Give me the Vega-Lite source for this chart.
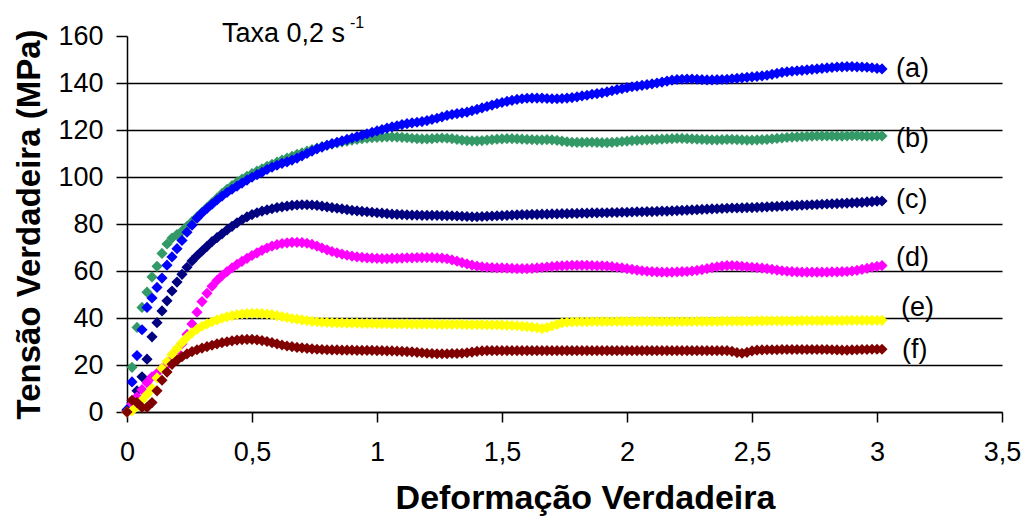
{
"$schema": "https://vega.github.io/schema/vega-lite/v6.json",
"width": 875, "height": 376,
"autosize": "none",
"padding": {"left": 127, "top": 36, "right": 23, "bottom": 107},
"background": "white",
"config": {"font": "Liberation Sans", "view": {"stroke": null}},
"encoding": {
"x": {"field": "x", "type": "quantitative", "scale": {"domain": [0, 3.5], "nice": false, "zero": false},
  "axis": {"values": [0, 0.5, 1, 1.5, 2, 2.5, 3, 3.5], "labelExpr": "replace(toString(datum.value), '.', ',')", "grid": false,
    "domainColor": "#000", "domainWidth": 1.5, "tickColor": "#000", "tickWidth": 1.5, "tickSize": 10,
    "labelFontSize": 27, "labelColor": "#000", "labelPadding": 17, "labelFlush": false,
    "title": "Deformação Verdadeira", "titleFontSize": 34, "titleFontWeight": "bold", "titleColor": "#000", "titlePadding": 16, "titleX": 458}},
"y": {"field": "y", "type": "quantitative", "scale": {"domain": [0, 160], "nice": false},
  "axis": {"values": [0, 20, 40, 60, 80, 100, 120, 140, 160], "grid": true, "gridColor": "#000", "gridWidth": 1.5,
    "gridOpacity": {"condition": {"test": "datum.value === 160", "value": 0}, "value": 1},
    "domainColor": "#000", "domainWidth": 1.5, "tickColor": "#000", "tickWidth": 1.5, "tickSize": 11,
    "labelFontSize": 27, "labelColor": "#000", "labelPadding": 13, "labelFlush": false,
    "title": "Tensão Verdadeira (MPa)", "titleFontSize": 33, "titleFontWeight": "bold", "titleColor": "#000", "titlePadding": 11}}
},
"layer": [
{
"data": {"values": [
{"s":"b","x":0,"y":0},{"s":"b","x":0.02,"y":19},{"s":"b","x":0.04,"y":36},{"s":"b","x":0.06,"y":44.5},{"s":"b","x":0.08,"y":51},{"s":"b","x":0.1,"y":57.5},{"s":"b","x":0.12,"y":62},{"s":"b","x":0.14,"y":67.5},{"s":"b","x":0.16,"y":71.5},{"s":"b","x":0.18,"y":74},
{"s":"b","x":0.2,"y":75.5},{"s":"b","x":0.22,"y":77},{"s":"b","x":0.24,"y":79},{"s":"b","x":0.26,"y":81},{"s":"b","x":0.28,"y":83},{"s":"b","x":0.3,"y":85},{"s":"b","x":0.32,"y":87},{"s":"b","x":0.34,"y":89},{"s":"b","x":0.36,"y":91},{"s":"b","x":0.38,"y":93},
{"s":"b","x":0.4,"y":94.8},{"s":"b","x":0.42,"y":96.3},{"s":"b","x":0.44,"y":97.8},{"s":"b","x":0.46,"y":99.1},{"s":"b","x":0.48,"y":100.3},{"s":"b","x":0.5,"y":101.4},{"s":"b","x":0.52,"y":102.5},{"s":"b","x":0.54,"y":103.5},{"s":"b","x":0.56,"y":104.5},{"s":"b","x":0.58,"y":105.4},
{"s":"b","x":0.6,"y":106.3},{"s":"b","x":0.62,"y":107.2},{"s":"b","x":0.64,"y":108},{"s":"b","x":0.66,"y":108.8},{"s":"b","x":0.68,"y":109.6},{"s":"b","x":0.7,"y":110.3},{"s":"b","x":0.72,"y":111},{"s":"b","x":0.74,"y":111.7},{"s":"b","x":0.76,"y":112.3},{"s":"b","x":0.78,"y":112.9},
{"s":"b","x":0.8,"y":113.5},{"s":"b","x":0.82,"y":114},{"s":"b","x":0.84,"y":114.5},{"s":"b","x":0.86,"y":114.9},{"s":"b","x":0.88,"y":115.3},{"s":"b","x":0.9,"y":115.7},{"s":"b","x":0.92,"y":116},{"s":"b","x":0.94,"y":116.3},{"s":"b","x":0.96,"y":116.5},{"s":"b","x":0.98,"y":116.7},
{"s":"b","x":1,"y":116.9},{"s":"b","x":1.02,"y":117},{"s":"b","x":1.04,"y":117.1},{"s":"b","x":1.06,"y":117.1},{"s":"b","x":1.08,"y":117},{"s":"b","x":1.1,"y":116.9},{"s":"b","x":1.12,"y":116.7},{"s":"b","x":1.14,"y":116.5},{"s":"b","x":1.16,"y":116.3},{"s":"b","x":1.18,"y":116.2},
{"s":"b","x":1.2,"y":116.2},{"s":"b","x":1.22,"y":116.3},{"s":"b","x":1.24,"y":116.5},{"s":"b","x":1.26,"y":116.6},{"s":"b","x":1.28,"y":116.5},{"s":"b","x":1.3,"y":116.3},{"s":"b","x":1.32,"y":116},{"s":"b","x":1.34,"y":115.7},{"s":"b","x":1.36,"y":115.5},{"s":"b","x":1.38,"y":115.4},
{"s":"b","x":1.4,"y":115.4},{"s":"b","x":1.42,"y":115.5},{"s":"b","x":1.44,"y":115.7},{"s":"b","x":1.46,"y":115.9},{"s":"b","x":1.48,"y":116.1},{"s":"b","x":1.5,"y":116.2},{"s":"b","x":1.52,"y":116.3},{"s":"b","x":1.54,"y":116.3},{"s":"b","x":1.56,"y":116.2},{"s":"b","x":1.58,"y":116.1},
{"s":"b","x":1.6,"y":116},{"s":"b","x":1.62,"y":115.9},{"s":"b","x":1.64,"y":115.8},{"s":"b","x":1.66,"y":115.8},{"s":"b","x":1.68,"y":115.9},{"s":"b","x":1.7,"y":115.8},{"s":"b","x":1.72,"y":115.6},{"s":"b","x":1.74,"y":115.3},{"s":"b","x":1.76,"y":115},{"s":"b","x":1.78,"y":114.8},
{"s":"b","x":1.8,"y":114.7},{"s":"b","x":1.82,"y":114.7},{"s":"b","x":1.84,"y":114.8},{"s":"b","x":1.86,"y":114.8},{"s":"b","x":1.88,"y":114.7},{"s":"b","x":1.9,"y":114.6},{"s":"b","x":1.92,"y":114.6},{"s":"b","x":1.94,"y":114.7},{"s":"b","x":1.96,"y":114.9},{"s":"b","x":1.98,"y":115.1},
{"s":"b","x":2,"y":115.3},{"s":"b","x":2.02,"y":115.5},{"s":"b","x":2.04,"y":115.6},{"s":"b","x":2.06,"y":115.7},{"s":"b","x":2.08,"y":115.8},{"s":"b","x":2.1,"y":115.9},{"s":"b","x":2.12,"y":116},{"s":"b","x":2.14,"y":116.1},{"s":"b","x":2.16,"y":116.2},{"s":"b","x":2.18,"y":116.3},
{"s":"b","x":2.2,"y":116.4},{"s":"b","x":2.22,"y":116.4},{"s":"b","x":2.24,"y":116.3},{"s":"b","x":2.26,"y":116.2},{"s":"b","x":2.28,"y":116.1},{"s":"b","x":2.3,"y":116},{"s":"b","x":2.32,"y":115.9},{"s":"b","x":2.34,"y":115.8},{"s":"b","x":2.36,"y":115.8},{"s":"b","x":2.38,"y":115.9},
{"s":"b","x":2.4,"y":116},{"s":"b","x":2.42,"y":116},{"s":"b","x":2.44,"y":115.9},{"s":"b","x":2.46,"y":115.8},{"s":"b","x":2.48,"y":115.7},{"s":"b","x":2.5,"y":115.7},{"s":"b","x":2.52,"y":115.8},{"s":"b","x":2.54,"y":115.9},{"s":"b","x":2.56,"y":116},{"s":"b","x":2.58,"y":116.2},
{"s":"b","x":2.6,"y":116.4},{"s":"b","x":2.62,"y":116.6},{"s":"b","x":2.64,"y":116.8},{"s":"b","x":2.66,"y":117},{"s":"b","x":2.68,"y":117.1},{"s":"b","x":2.7,"y":117.2},{"s":"b","x":2.72,"y":117.3},{"s":"b","x":2.74,"y":117.4},{"s":"b","x":2.76,"y":117.5},{"s":"b","x":2.78,"y":117.5},
{"s":"b","x":2.8,"y":117.5},{"s":"b","x":2.82,"y":117.5},{"s":"b","x":2.84,"y":117.4},{"s":"b","x":2.86,"y":117.4},{"s":"b","x":2.88,"y":117.5},{"s":"b","x":2.9,"y":117.6},{"s":"b","x":2.92,"y":117.6},{"s":"b","x":2.94,"y":117.5},{"s":"b","x":2.96,"y":117.4},{"s":"b","x":2.98,"y":117.4},
{"s":"b","x":3,"y":117.5},{"s":"b","x":3.02,"y":117.5},

{"s":"a","x":0,"y":1},{"s":"a","x":0.02,"y":12.8},{"s":"a","x":0.04,"y":24},{"s":"a","x":0.06,"y":35},{"s":"a","x":0.08,"y":44.5},{"s":"a","x":0.1,"y":48.5},{"s":"a","x":0.12,"y":53},{"s":"a","x":0.14,"y":57},{"s":"a","x":0.16,"y":62.5},{"s":"a","x":0.18,"y":66},
{"s":"a","x":0.2,"y":69.5},{"s":"a","x":0.22,"y":73},{"s":"a","x":0.24,"y":76.5},{"s":"a","x":0.26,"y":79.5},{"s":"a","x":0.28,"y":82.5},{"s":"a","x":0.3,"y":84.7},{"s":"a","x":0.32,"y":86.6},{"s":"a","x":0.34,"y":88.4},{"s":"a","x":0.36,"y":90.2},{"s":"a","x":0.38,"y":91.9},
{"s":"a","x":0.4,"y":93.4},{"s":"a","x":0.42,"y":94.8},{"s":"a","x":0.44,"y":96.1},{"s":"a","x":0.46,"y":97.4},{"s":"a","x":0.48,"y":98.7},{"s":"a","x":0.5,"y":99.9},{"s":"a","x":0.52,"y":101},{"s":"a","x":0.54,"y":102},{"s":"a","x":0.56,"y":103.2},{"s":"a","x":0.58,"y":104.2},
{"s":"a","x":0.6,"y":105},{"s":"a","x":0.62,"y":105.8},{"s":"a","x":0.64,"y":106.4},{"s":"a","x":0.66,"y":107.2},{"s":"a","x":0.68,"y":108},{"s":"a","x":0.7,"y":109},{"s":"a","x":0.72,"y":110},{"s":"a","x":0.74,"y":111},{"s":"a","x":0.76,"y":112},{"s":"a","x":0.78,"y":112.7},
{"s":"a","x":0.8,"y":113.5},{"s":"a","x":0.82,"y":114.2},{"s":"a","x":0.84,"y":114.8},{"s":"a","x":0.86,"y":115.4},{"s":"a","x":0.88,"y":116},{"s":"a","x":0.9,"y":116.6},{"s":"a","x":0.92,"y":117.2},{"s":"a","x":0.94,"y":117.8},{"s":"a","x":0.96,"y":118.4},{"s":"a","x":0.98,"y":119},
{"s":"a","x":1,"y":119.6},{"s":"a","x":1.02,"y":120.2},{"s":"a","x":1.04,"y":120.8},{"s":"a","x":1.06,"y":121.3},{"s":"a","x":1.08,"y":121.8},{"s":"a","x":1.1,"y":122.3},{"s":"a","x":1.12,"y":122.7},{"s":"a","x":1.14,"y":123},{"s":"a","x":1.16,"y":123.3},{"s":"a","x":1.18,"y":123.6},
{"s":"a","x":1.2,"y":124},{"s":"a","x":1.22,"y":124.5},{"s":"a","x":1.24,"y":125},{"s":"a","x":1.26,"y":125.6},{"s":"a","x":1.28,"y":126.2},{"s":"a","x":1.3,"y":126.6},{"s":"a","x":1.32,"y":127},{"s":"a","x":1.34,"y":127.3},{"s":"a","x":1.36,"y":127.6},{"s":"a","x":1.38,"y":128.2},
{"s":"a","x":1.4,"y":128.8},{"s":"a","x":1.42,"y":129.4},{"s":"a","x":1.44,"y":130},{"s":"a","x":1.46,"y":130.6},{"s":"a","x":1.48,"y":131.2},{"s":"a","x":1.5,"y":131.7},{"s":"a","x":1.52,"y":132.2},{"s":"a","x":1.54,"y":132.6},{"s":"a","x":1.56,"y":133},{"s":"a","x":1.58,"y":133.3},
{"s":"a","x":1.6,"y":133.5},{"s":"a","x":1.62,"y":133.6},{"s":"a","x":1.64,"y":133.6},{"s":"a","x":1.66,"y":133.6},{"s":"a","x":1.68,"y":133.4},{"s":"a","x":1.7,"y":133.3},{"s":"a","x":1.72,"y":133.3},{"s":"a","x":1.74,"y":133.4},{"s":"a","x":1.76,"y":133.6},{"s":"a","x":1.78,"y":133.8},
{"s":"a","x":1.8,"y":134.1},{"s":"a","x":1.82,"y":134.5},{"s":"a","x":1.84,"y":134.8},{"s":"a","x":1.86,"y":135.2},{"s":"a","x":1.88,"y":135.5},{"s":"a","x":1.9,"y":135.8},{"s":"a","x":1.92,"y":136.2},{"s":"a","x":1.94,"y":136.7},{"s":"a","x":1.96,"y":137.2},{"s":"a","x":1.98,"y":137.6},
{"s":"a","x":2,"y":138},{"s":"a","x":2.02,"y":138.4},{"s":"a","x":2.04,"y":138.7},{"s":"a","x":2.06,"y":139},{"s":"a","x":2.08,"y":139.3},{"s":"a","x":2.1,"y":139.6},{"s":"a","x":2.12,"y":140},{"s":"a","x":2.14,"y":140.4},{"s":"a","x":2.16,"y":140.8},{"s":"a","x":2.18,"y":141.2},
{"s":"a","x":2.2,"y":141.5},{"s":"a","x":2.22,"y":141.6},{"s":"a","x":2.24,"y":141.7},{"s":"a","x":2.26,"y":141.7},{"s":"a","x":2.28,"y":141.6},{"s":"a","x":2.3,"y":141.4},{"s":"a","x":2.32,"y":141.3},{"s":"a","x":2.34,"y":141.3},{"s":"a","x":2.36,"y":141.4},{"s":"a","x":2.38,"y":141.5},
{"s":"a","x":2.4,"y":141.6},{"s":"a","x":2.42,"y":141.8},{"s":"a","x":2.44,"y":142},{"s":"a","x":2.46,"y":142.2},{"s":"a","x":2.48,"y":142.4},{"s":"a","x":2.5,"y":142.6},{"s":"a","x":2.52,"y":142.8},{"s":"a","x":2.54,"y":143},{"s":"a","x":2.56,"y":143.3},{"s":"a","x":2.58,"y":143.7},
{"s":"a","x":2.6,"y":144.1},{"s":"a","x":2.62,"y":144.5},{"s":"a","x":2.64,"y":144.8},{"s":"a","x":2.66,"y":145},{"s":"a","x":2.68,"y":145.2},{"s":"a","x":2.7,"y":145.4},{"s":"a","x":2.72,"y":145.6},{"s":"a","x":2.74,"y":145.8},{"s":"a","x":2.76,"y":146},{"s":"a","x":2.78,"y":146.2},
{"s":"a","x":2.8,"y":146.4},{"s":"a","x":2.82,"y":146.6},{"s":"a","x":2.84,"y":146.8},{"s":"a","x":2.86,"y":146.9},{"s":"a","x":2.88,"y":147},{"s":"a","x":2.9,"y":147},{"s":"a","x":2.92,"y":146.9},{"s":"a","x":2.94,"y":146.8},{"s":"a","x":2.96,"y":146.7},{"s":"a","x":2.98,"y":146.5},
{"s":"a","x":3,"y":146.2},{"s":"a","x":3.02,"y":146},

{"s":"c","x":0,"y":0.5},{"s":"c","x":0.02,"y":4},{"s":"c","x":0.04,"y":9},{"s":"c","x":0.06,"y":15},{"s":"c","x":0.08,"y":22.5},{"s":"c","x":0.1,"y":32},{"s":"c","x":0.12,"y":38},{"s":"c","x":0.14,"y":43},{"s":"c","x":0.16,"y":47.3},{"s":"c","x":0.18,"y":51.5},
{"s":"c","x":0.2,"y":55.3},{"s":"c","x":0.22,"y":58.6},{"s":"c","x":0.24,"y":61.6},{"s":"c","x":0.26,"y":64.3},{"s":"c","x":0.28,"y":66.5},{"s":"c","x":0.3,"y":68.5},{"s":"c","x":0.32,"y":70.5},{"s":"c","x":0.34,"y":72.5},{"s":"c","x":0.36,"y":74.2},{"s":"c","x":0.38,"y":75.8},
{"s":"c","x":0.4,"y":77.5},{"s":"c","x":0.42,"y":79},{"s":"c","x":0.44,"y":80.5},{"s":"c","x":0.46,"y":81.8},{"s":"c","x":0.48,"y":83},{"s":"c","x":0.5,"y":84},{"s":"c","x":0.52,"y":84.8},{"s":"c","x":0.54,"y":85.5},{"s":"c","x":0.56,"y":86},{"s":"c","x":0.58,"y":86.5},
{"s":"c","x":0.6,"y":87},{"s":"c","x":0.62,"y":87.3},{"s":"c","x":0.64,"y":87.6},{"s":"c","x":0.66,"y":87.9},{"s":"c","x":0.68,"y":88.1},{"s":"c","x":0.7,"y":88.2},{"s":"c","x":0.72,"y":88.2},{"s":"c","x":0.74,"y":88.1},{"s":"c","x":0.76,"y":87.9},{"s":"c","x":0.78,"y":87.6},
{"s":"c","x":0.8,"y":87.3},{"s":"c","x":0.82,"y":87},{"s":"c","x":0.84,"y":86.7},{"s":"c","x":0.86,"y":86.4},{"s":"c","x":0.88,"y":86.1},{"s":"c","x":0.9,"y":85.8},{"s":"c","x":0.92,"y":85.6},{"s":"c","x":0.94,"y":85.4},{"s":"c","x":0.96,"y":85.2},{"s":"c","x":0.98,"y":85},
{"s":"c","x":1,"y":84.8},{"s":"c","x":1.02,"y":84.6},{"s":"c","x":1.04,"y":84.4},{"s":"c","x":1.06,"y":84.2},{"s":"c","x":1.08,"y":84.1},{"s":"c","x":1.1,"y":84},{"s":"c","x":1.12,"y":83.9},{"s":"c","x":1.14,"y":83.8},{"s":"c","x":1.16,"y":83.8},{"s":"c","x":1.18,"y":83.7},
{"s":"c","x":1.2,"y":83.7},{"s":"c","x":1.22,"y":83.7},{"s":"c","x":1.24,"y":83.7},{"s":"c","x":1.26,"y":83.6},{"s":"c","x":1.28,"y":83.6},{"s":"c","x":1.3,"y":83.5},{"s":"c","x":1.32,"y":83.4},{"s":"c","x":1.34,"y":83.3},{"s":"c","x":1.36,"y":83.2},{"s":"c","x":1.38,"y":83.1},
{"s":"c","x":1.4,"y":83.1},{"s":"c","x":1.42,"y":83.2},{"s":"c","x":1.44,"y":83.3},{"s":"c","x":1.46,"y":83.4},{"s":"c","x":1.48,"y":83.5},{"s":"c","x":1.5,"y":83.6},{"s":"c","x":1.52,"y":83.7},{"s":"c","x":1.54,"y":83.8},{"s":"c","x":1.56,"y":83.9},{"s":"c","x":1.58,"y":84},
{"s":"c","x":1.6,"y":84},{"s":"c","x":1.62,"y":84.1},{"s":"c","x":1.64,"y":84.1},{"s":"c","x":1.66,"y":84.2},{"s":"c","x":1.68,"y":84.2},{"s":"c","x":1.7,"y":84.3},{"s":"c","x":1.72,"y":84.3},{"s":"c","x":1.74,"y":84.4},{"s":"c","x":1.76,"y":84.4},{"s":"c","x":1.78,"y":84.5},
{"s":"c","x":1.8,"y":84.5},{"s":"c","x":1.82,"y":84.6},{"s":"c","x":1.84,"y":84.6},{"s":"c","x":1.86,"y":84.7},{"s":"c","x":1.88,"y":84.7},{"s":"c","x":1.9,"y":84.8},{"s":"c","x":1.92,"y":84.8},{"s":"c","x":1.94,"y":84.9},{"s":"c","x":1.96,"y":84.9},{"s":"c","x":1.98,"y":85},
{"s":"c","x":2,"y":85},{"s":"c","x":2.02,"y":85.1},{"s":"c","x":2.04,"y":85.2},{"s":"c","x":2.06,"y":85.2},{"s":"c","x":2.08,"y":85.3},{"s":"c","x":2.1,"y":85.3},{"s":"c","x":2.12,"y":85.4},{"s":"c","x":2.14,"y":85.5},{"s":"c","x":2.16,"y":85.5},{"s":"c","x":2.18,"y":85.6},
{"s":"c","x":2.2,"y":85.7},{"s":"c","x":2.22,"y":85.8},{"s":"c","x":2.24,"y":85.9},{"s":"c","x":2.26,"y":86},{"s":"c","x":2.28,"y":86.1},{"s":"c","x":2.3,"y":86.2},{"s":"c","x":2.32,"y":86.3},{"s":"c","x":2.34,"y":86.4},{"s":"c","x":2.36,"y":86.5},{"s":"c","x":2.38,"y":86.6},
{"s":"c","x":2.4,"y":86.7},{"s":"c","x":2.42,"y":86.8},{"s":"c","x":2.44,"y":86.8},{"s":"c","x":2.46,"y":86.9},{"s":"c","x":2.48,"y":87},{"s":"c","x":2.5,"y":87},{"s":"c","x":2.52,"y":87.1},{"s":"c","x":2.54,"y":87.2},{"s":"c","x":2.56,"y":87.3},{"s":"c","x":2.58,"y":87.4},
{"s":"c","x":2.6,"y":87.5},{"s":"c","x":2.62,"y":87.6},{"s":"c","x":2.64,"y":87.7},{"s":"c","x":2.66,"y":87.8},{"s":"c","x":2.68,"y":87.9},{"s":"c","x":2.7,"y":88},{"s":"c","x":2.72,"y":88.1},{"s":"c","x":2.74,"y":88.2},{"s":"c","x":2.76,"y":88.3},{"s":"c","x":2.78,"y":88.4},
{"s":"c","x":2.8,"y":88.5},{"s":"c","x":2.82,"y":88.6},{"s":"c","x":2.84,"y":88.7},{"s":"c","x":2.86,"y":88.8},{"s":"c","x":2.88,"y":88.9},{"s":"c","x":2.9,"y":89},{"s":"c","x":2.92,"y":89.1},{"s":"c","x":2.94,"y":89.2},{"s":"c","x":2.96,"y":89.4},{"s":"c","x":2.98,"y":89.5},
{"s":"c","x":3,"y":89.7},{"s":"c","x":3.02,"y":89.8},

{"s":"d","x":0,"y":0},{"s":"d","x":0.02,"y":3.5},{"s":"d","x":0.04,"y":6.5},{"s":"d","x":0.06,"y":9.5},{"s":"d","x":0.08,"y":12.5},{"s":"d","x":0.1,"y":15},{"s":"d","x":0.12,"y":16.5},{"s":"d","x":0.14,"y":18.5},{"s":"d","x":0.16,"y":20},{"s":"d","x":0.18,"y":22.5},
{"s":"d","x":0.2,"y":25.5},{"s":"d","x":0.22,"y":29},{"s":"d","x":0.24,"y":33},{"s":"d","x":0.26,"y":37.5},{"s":"d","x":0.28,"y":42.5},{"s":"d","x":0.3,"y":47},{"s":"d","x":0.32,"y":50.5},{"s":"d","x":0.34,"y":53.5},{"s":"d","x":0.36,"y":56},{"s":"d","x":0.38,"y":58},
{"s":"d","x":0.4,"y":59.7},{"s":"d","x":0.42,"y":61.3},{"s":"d","x":0.44,"y":62.8},{"s":"d","x":0.46,"y":64.1},{"s":"d","x":0.48,"y":65.4},{"s":"d","x":0.5,"y":66.6},{"s":"d","x":0.52,"y":67.7},{"s":"d","x":0.54,"y":68.8},{"s":"d","x":0.56,"y":69.8},{"s":"d","x":0.58,"y":70.6},
{"s":"d","x":0.6,"y":71.2},{"s":"d","x":0.62,"y":71.7},{"s":"d","x":0.64,"y":72},{"s":"d","x":0.66,"y":72.2},{"s":"d","x":0.68,"y":72.2},{"s":"d","x":0.7,"y":72.1},{"s":"d","x":0.72,"y":71.8},{"s":"d","x":0.74,"y":71.3},{"s":"d","x":0.76,"y":70.6},{"s":"d","x":0.78,"y":69.8},
{"s":"d","x":0.8,"y":69},{"s":"d","x":0.82,"y":68.3},{"s":"d","x":0.84,"y":67.7},{"s":"d","x":0.86,"y":67.2},{"s":"d","x":0.88,"y":66.7},{"s":"d","x":0.9,"y":66.3},{"s":"d","x":0.92,"y":66},{"s":"d","x":0.94,"y":65.8},{"s":"d","x":0.96,"y":65.6},{"s":"d","x":0.98,"y":65.5},
{"s":"d","x":1,"y":65.4},{"s":"d","x":1.02,"y":65.3},{"s":"d","x":1.04,"y":65.3},{"s":"d","x":1.06,"y":65.4},{"s":"d","x":1.08,"y":65.4},{"s":"d","x":1.1,"y":65.5},{"s":"d","x":1.12,"y":65.6},{"s":"d","x":1.14,"y":65.6},{"s":"d","x":1.16,"y":65.7},{"s":"d","x":1.18,"y":65.7},
{"s":"d","x":1.2,"y":65.7},{"s":"d","x":1.22,"y":65.7},{"s":"d","x":1.24,"y":65.6},{"s":"d","x":1.26,"y":65.5},{"s":"d","x":1.28,"y":65.2},{"s":"d","x":1.3,"y":64.7},{"s":"d","x":1.32,"y":64.2},{"s":"d","x":1.34,"y":63.6},{"s":"d","x":1.36,"y":63},{"s":"d","x":1.38,"y":62.5},
{"s":"d","x":1.4,"y":62.1},{"s":"d","x":1.42,"y":61.8},{"s":"d","x":1.44,"y":61.6},{"s":"d","x":1.46,"y":61.4},{"s":"d","x":1.48,"y":61.3},{"s":"d","x":1.5,"y":61.3},{"s":"d","x":1.52,"y":61.2},{"s":"d","x":1.54,"y":61.1},{"s":"d","x":1.56,"y":61},{"s":"d","x":1.58,"y":61},
{"s":"d","x":1.6,"y":61},{"s":"d","x":1.62,"y":61.1},{"s":"d","x":1.64,"y":61.3},{"s":"d","x":1.66,"y":61.5},{"s":"d","x":1.68,"y":61.7},{"s":"d","x":1.7,"y":61.9},{"s":"d","x":1.72,"y":62.1},{"s":"d","x":1.74,"y":62.2},{"s":"d","x":1.76,"y":62.3},{"s":"d","x":1.78,"y":62.4},
{"s":"d","x":1.8,"y":62.4},{"s":"d","x":1.82,"y":62.4},{"s":"d","x":1.84,"y":62.4},{"s":"d","x":1.86,"y":62.3},{"s":"d","x":1.88,"y":62.2},{"s":"d","x":1.9,"y":62.2},{"s":"d","x":1.92,"y":62.1},{"s":"d","x":1.94,"y":61.9},{"s":"d","x":1.96,"y":61.6},{"s":"d","x":1.98,"y":61.3},
{"s":"d","x":2,"y":61},{"s":"d","x":2.02,"y":60.7},{"s":"d","x":2.04,"y":60.4},{"s":"d","x":2.06,"y":60.1},{"s":"d","x":2.08,"y":59.9},{"s":"d","x":2.1,"y":59.7},{"s":"d","x":2.12,"y":59.6},{"s":"d","x":2.14,"y":59.5},{"s":"d","x":2.16,"y":59.5},{"s":"d","x":2.18,"y":59.5},
{"s":"d","x":2.2,"y":59.6},{"s":"d","x":2.22,"y":59.7},{"s":"d","x":2.24,"y":59.8},{"s":"d","x":2.26,"y":60},{"s":"d","x":2.28,"y":60.3},{"s":"d","x":2.3,"y":60.6},{"s":"d","x":2.32,"y":61},{"s":"d","x":2.34,"y":61.4},{"s":"d","x":2.36,"y":61.8},{"s":"d","x":2.38,"y":62.1},
{"s":"d","x":2.4,"y":62.3},{"s":"d","x":2.42,"y":62.3},{"s":"d","x":2.44,"y":62.2},{"s":"d","x":2.46,"y":62},{"s":"d","x":2.48,"y":61.8},{"s":"d","x":2.5,"y":61.6},{"s":"d","x":2.52,"y":61.4},{"s":"d","x":2.54,"y":61.2},{"s":"d","x":2.56,"y":61},{"s":"d","x":2.58,"y":60.7},
{"s":"d","x":2.6,"y":60.4},{"s":"d","x":2.62,"y":60.1},{"s":"d","x":2.64,"y":59.9},{"s":"d","x":2.66,"y":59.7},{"s":"d","x":2.68,"y":59.6},{"s":"d","x":2.7,"y":59.5},{"s":"d","x":2.72,"y":59.5},{"s":"d","x":2.74,"y":59.5},{"s":"d","x":2.76,"y":59.5},{"s":"d","x":2.78,"y":59.5},
{"s":"d","x":2.8,"y":59.5},{"s":"d","x":2.82,"y":59.6},{"s":"d","x":2.84,"y":59.6},{"s":"d","x":2.86,"y":59.7},{"s":"d","x":2.88,"y":59.8},{"s":"d","x":2.9,"y":60},{"s":"d","x":2.92,"y":60.3},{"s":"d","x":2.94,"y":60.7},{"s":"d","x":2.96,"y":61.1},{"s":"d","x":2.98,"y":61.6},
{"s":"d","x":3,"y":62},{"s":"d","x":3.02,"y":62.3},

{"s":"e","x":0,"y":0},{"s":"e","x":0.02,"y":0.5},{"s":"e","x":0.04,"y":2.5},{"s":"e","x":0.06,"y":5},{"s":"e","x":0.08,"y":7.5},{"s":"e","x":0.1,"y":10},{"s":"e","x":0.12,"y":14.5},{"s":"e","x":0.14,"y":18.5},{"s":"e","x":0.16,"y":21.5},{"s":"e","x":0.18,"y":24.5},
{"s":"e","x":0.2,"y":27},{"s":"e","x":0.22,"y":29.5},{"s":"e","x":0.24,"y":31.8},{"s":"e","x":0.26,"y":33.7},{"s":"e","x":0.28,"y":35.2},{"s":"e","x":0.3,"y":36.5},{"s":"e","x":0.32,"y":37.5},{"s":"e","x":0.34,"y":38.4},{"s":"e","x":0.36,"y":39.2},{"s":"e","x":0.38,"y":39.9},
{"s":"e","x":0.4,"y":40.5},{"s":"e","x":0.42,"y":41},{"s":"e","x":0.44,"y":41.4},{"s":"e","x":0.46,"y":41.7},{"s":"e","x":0.48,"y":41.9},{"s":"e","x":0.5,"y":42},{"s":"e","x":0.52,"y":42},{"s":"e","x":0.54,"y":41.9},{"s":"e","x":0.56,"y":41.7},{"s":"e","x":0.58,"y":41.4},
{"s":"e","x":0.6,"y":41},{"s":"e","x":0.62,"y":40.6},{"s":"e","x":0.64,"y":40.2},{"s":"e","x":0.66,"y":39.8},{"s":"e","x":0.68,"y":39.5},{"s":"e","x":0.7,"y":39.2},{"s":"e","x":0.72,"y":38.9},{"s":"e","x":0.74,"y":38.6},{"s":"e","x":0.76,"y":38.4},{"s":"e","x":0.78,"y":38.2},
{"s":"e","x":0.8,"y":38.1},{"s":"e","x":0.82,"y":38},{"s":"e","x":0.84,"y":37.9},{"s":"e","x":0.86,"y":37.9},{"s":"e","x":0.88,"y":37.8},{"s":"e","x":0.9,"y":37.8},{"s":"e","x":0.92,"y":37.8},{"s":"e","x":0.94,"y":37.7},{"s":"e","x":0.96,"y":37.7},{"s":"e","x":0.98,"y":37.7},
{"s":"e","x":1,"y":37.6},{"s":"e","x":1.02,"y":37.6},{"s":"e","x":1.04,"y":37.6},{"s":"e","x":1.06,"y":37.5},{"s":"e","x":1.08,"y":37.5},{"s":"e","x":1.1,"y":37.5},{"s":"e","x":1.12,"y":37.5},{"s":"e","x":1.14,"y":37.4},{"s":"e","x":1.16,"y":37.4},{"s":"e","x":1.18,"y":37.4},
{"s":"e","x":1.2,"y":37.4},{"s":"e","x":1.22,"y":37.4},{"s":"e","x":1.24,"y":37.3},{"s":"e","x":1.26,"y":37.3},{"s":"e","x":1.28,"y":37.3},{"s":"e","x":1.3,"y":37.3},{"s":"e","x":1.32,"y":37.3},{"s":"e","x":1.34,"y":37.3},{"s":"e","x":1.36,"y":37.2},{"s":"e","x":1.38,"y":37.2},
{"s":"e","x":1.4,"y":37.2},{"s":"e","x":1.42,"y":37.2},{"s":"e","x":1.44,"y":37.1},{"s":"e","x":1.46,"y":37.1},{"s":"e","x":1.48,"y":37.1},{"s":"e","x":1.5,"y":37},{"s":"e","x":1.52,"y":36.9},{"s":"e","x":1.54,"y":36.8},{"s":"e","x":1.56,"y":36.7},{"s":"e","x":1.58,"y":36.5},
{"s":"e","x":1.6,"y":36.3},{"s":"e","x":1.62,"y":36.1},{"s":"e","x":1.64,"y":35.8},{"s":"e","x":1.66,"y":35.5},{"s":"e","x":1.68,"y":35.9},{"s":"e","x":1.7,"y":36.6},{"s":"e","x":1.72,"y":37.3},{"s":"e","x":1.74,"y":37.9},{"s":"e","x":1.76,"y":38.2},{"s":"e","x":1.78,"y":38.3},
{"s":"e","x":1.8,"y":38.4},{"s":"e","x":1.82,"y":38.4},{"s":"e","x":1.84,"y":38.4},{"s":"e","x":1.86,"y":38.5},{"s":"e","x":1.88,"y":38.5},{"s":"e","x":1.9,"y":38.5},{"s":"e","x":1.92,"y":38.5},{"s":"e","x":1.94,"y":38.5},{"s":"e","x":1.96,"y":38.5},{"s":"e","x":1.98,"y":38.6},
{"s":"e","x":2,"y":38.6},{"s":"e","x":2.02,"y":38.6},{"s":"e","x":2.04,"y":38.6},{"s":"e","x":2.06,"y":38.6},{"s":"e","x":2.08,"y":38.6},{"s":"e","x":2.1,"y":38.6},{"s":"e","x":2.12,"y":38.5},{"s":"e","x":2.14,"y":38.5},{"s":"e","x":2.16,"y":38.5},{"s":"e","x":2.18,"y":38.5},
{"s":"e","x":2.2,"y":38.5},{"s":"e","x":2.22,"y":38.5},{"s":"e","x":2.24,"y":38.5},{"s":"e","x":2.26,"y":38.5},{"s":"e","x":2.28,"y":38.6},{"s":"e","x":2.3,"y":38.6},{"s":"e","x":2.32,"y":38.6},{"s":"e","x":2.34,"y":38.6},{"s":"e","x":2.36,"y":38.6},{"s":"e","x":2.38,"y":38.7},
{"s":"e","x":2.4,"y":38.7},{"s":"e","x":2.42,"y":38.7},{"s":"e","x":2.44,"y":38.7},{"s":"e","x":2.46,"y":38.7},{"s":"e","x":2.48,"y":38.7},{"s":"e","x":2.5,"y":38.7},{"s":"e","x":2.52,"y":38.8},{"s":"e","x":2.54,"y":38.8},{"s":"e","x":2.56,"y":38.8},{"s":"e","x":2.58,"y":38.8},
{"s":"e","x":2.6,"y":38.8},{"s":"e","x":2.62,"y":38.8},{"s":"e","x":2.64,"y":38.8},{"s":"e","x":2.66,"y":38.8},{"s":"e","x":2.68,"y":38.8},{"s":"e","x":2.7,"y":38.9},{"s":"e","x":2.72,"y":38.9},{"s":"e","x":2.74,"y":38.9},{"s":"e","x":2.76,"y":38.9},{"s":"e","x":2.78,"y":38.9},
{"s":"e","x":2.8,"y":38.9},{"s":"e","x":2.82,"y":38.9},{"s":"e","x":2.84,"y":38.9},{"s":"e","x":2.86,"y":38.9},{"s":"e","x":2.88,"y":39},{"s":"e","x":2.9,"y":39},{"s":"e","x":2.92,"y":39},{"s":"e","x":2.94,"y":39},{"s":"e","x":2.96,"y":39},{"s":"e","x":2.98,"y":39},
{"s":"e","x":3,"y":39},{"s":"e","x":3.02,"y":39},

{"s":"f","x":0,"y":0},{"s":"f","x":0.02,"y":5},{"s":"f","x":0.04,"y":4},{"s":"f","x":0.06,"y":2},{"s":"f","x":0.08,"y":2},{"s":"f","x":0.1,"y":4},{"s":"f","x":0.12,"y":9},{"s":"f","x":0.14,"y":13.5},{"s":"f","x":0.16,"y":17},{"s":"f","x":0.18,"y":20.3},
{"s":"f","x":0.2,"y":22},{"s":"f","x":0.22,"y":23.5},{"s":"f","x":0.24,"y":24.7},{"s":"f","x":0.26,"y":25.7},{"s":"f","x":0.28,"y":26.5},{"s":"f","x":0.3,"y":27.2},{"s":"f","x":0.32,"y":27.8},{"s":"f","x":0.34,"y":28.4},{"s":"f","x":0.36,"y":29},{"s":"f","x":0.38,"y":29.5},
{"s":"f","x":0.4,"y":29.9},{"s":"f","x":0.42,"y":30.3},{"s":"f","x":0.44,"y":30.6},{"s":"f","x":0.46,"y":30.8},{"s":"f","x":0.48,"y":30.9},{"s":"f","x":0.5,"y":30.9},{"s":"f","x":0.52,"y":30.7},{"s":"f","x":0.54,"y":30.4},{"s":"f","x":0.56,"y":30},{"s":"f","x":0.58,"y":29.5},
{"s":"f","x":0.6,"y":29},{"s":"f","x":0.62,"y":28.5},{"s":"f","x":0.64,"y":28.1},{"s":"f","x":0.66,"y":27.8},{"s":"f","x":0.68,"y":27.5},{"s":"f","x":0.7,"y":27.3},{"s":"f","x":0.72,"y":27.1},{"s":"f","x":0.74,"y":26.9},{"s":"f","x":0.76,"y":26.7},{"s":"f","x":0.78,"y":26.6},
{"s":"f","x":0.8,"y":26.5},{"s":"f","x":0.82,"y":26.4},{"s":"f","x":0.84,"y":26.4},{"s":"f","x":0.86,"y":26.3},{"s":"f","x":0.88,"y":26.3},{"s":"f","x":0.9,"y":26.3},{"s":"f","x":0.92,"y":26.2},{"s":"f","x":0.94,"y":26.2},{"s":"f","x":0.96,"y":26.2},{"s":"f","x":0.98,"y":26.2},
{"s":"f","x":1,"y":26.1},{"s":"f","x":1.02,"y":26.1},{"s":"f","x":1.04,"y":26},{"s":"f","x":1.06,"y":26},{"s":"f","x":1.08,"y":25.9},{"s":"f","x":1.1,"y":25.8},{"s":"f","x":1.12,"y":25.7},{"s":"f","x":1.14,"y":25.6},{"s":"f","x":1.16,"y":25.4},{"s":"f","x":1.18,"y":25.2},
{"s":"f","x":1.2,"y":25},{"s":"f","x":1.22,"y":24.9},{"s":"f","x":1.24,"y":24.8},{"s":"f","x":1.26,"y":24.8},{"s":"f","x":1.28,"y":24.8},{"s":"f","x":1.3,"y":24.9},{"s":"f","x":1.32,"y":24.9},{"s":"f","x":1.34,"y":25},{"s":"f","x":1.36,"y":25.2},{"s":"f","x":1.38,"y":25.5},
{"s":"f","x":1.4,"y":25.8},{"s":"f","x":1.42,"y":26},{"s":"f","x":1.44,"y":26.1},{"s":"f","x":1.46,"y":26.1},{"s":"f","x":1.48,"y":26.1},{"s":"f","x":1.5,"y":26.1},{"s":"f","x":1.52,"y":26.1},{"s":"f","x":1.54,"y":26.1},{"s":"f","x":1.56,"y":26.1},{"s":"f","x":1.58,"y":26.1},
{"s":"f","x":1.6,"y":26.1},{"s":"f","x":1.62,"y":26.1},{"s":"f","x":1.64,"y":26.1},{"s":"f","x":1.66,"y":26.1},{"s":"f","x":1.68,"y":26.1},{"s":"f","x":1.7,"y":26.1},{"s":"f","x":1.72,"y":26.1},{"s":"f","x":1.74,"y":26.1},{"s":"f","x":1.76,"y":26.1},{"s":"f","x":1.78,"y":26.1},
{"s":"f","x":1.8,"y":26.1},{"s":"f","x":1.82,"y":26.1},{"s":"f","x":1.84,"y":26.1},{"s":"f","x":1.86,"y":26.1},{"s":"f","x":1.88,"y":26.1},{"s":"f","x":1.9,"y":26.1},{"s":"f","x":1.92,"y":26.1},{"s":"f","x":1.94,"y":26.1},{"s":"f","x":1.96,"y":26.1},{"s":"f","x":1.98,"y":26.1},
{"s":"f","x":2,"y":26.1},{"s":"f","x":2.02,"y":26.1},{"s":"f","x":2.04,"y":26.1},{"s":"f","x":2.06,"y":26.1},{"s":"f","x":2.08,"y":26.1},{"s":"f","x":2.1,"y":26.1},{"s":"f","x":2.12,"y":26.1},{"s":"f","x":2.14,"y":26.1},{"s":"f","x":2.16,"y":26.1},{"s":"f","x":2.18,"y":26.1},
{"s":"f","x":2.2,"y":26.1},{"s":"f","x":2.22,"y":26.1},{"s":"f","x":2.24,"y":26.1},{"s":"f","x":2.26,"y":26.1},{"s":"f","x":2.28,"y":26.1},{"s":"f","x":2.3,"y":26.1},{"s":"f","x":2.32,"y":26.1},{"s":"f","x":2.34,"y":26.1},{"s":"f","x":2.36,"y":26.1},{"s":"f","x":2.38,"y":26.1},
{"s":"f","x":2.4,"y":26.1},{"s":"f","x":2.42,"y":25.8},{"s":"f","x":2.44,"y":25.3},{"s":"f","x":2.46,"y":25},{"s":"f","x":2.48,"y":25.4},{"s":"f","x":2.5,"y":26},{"s":"f","x":2.52,"y":26.3},{"s":"f","x":2.54,"y":26.4},{"s":"f","x":2.56,"y":26.5},{"s":"f","x":2.58,"y":26.5},
{"s":"f","x":2.6,"y":26.5},{"s":"f","x":2.62,"y":26.6},{"s":"f","x":2.64,"y":26.6},{"s":"f","x":2.66,"y":26.6},{"s":"f","x":2.68,"y":26.6},{"s":"f","x":2.7,"y":26.6},{"s":"f","x":2.72,"y":26.6},{"s":"f","x":2.74,"y":26.6},{"s":"f","x":2.76,"y":26.6},{"s":"f","x":2.78,"y":26.6},
{"s":"f","x":2.8,"y":26.6},{"s":"f","x":2.82,"y":26.5},{"s":"f","x":2.84,"y":26.4},{"s":"f","x":2.86,"y":26.3},{"s":"f","x":2.88,"y":26.3},{"s":"f","x":2.9,"y":26.4},{"s":"f","x":2.92,"y":26.5},{"s":"f","x":2.94,"y":26.6},{"s":"f","x":2.96,"y":26.6},{"s":"f","x":2.98,"y":26.7},
{"s":"f","x":3,"y":26.7},{"s":"f","x":3.02,"y":26.7}
]},
"mark": {"type": "point", "shape": "diamond", "filled": true, "size": 125, "opacity": 1},
"encoding": {
"color": {"field": "s", "type": "nominal", "legend": null,
  "scale": {"domain": ["a", "b", "c", "d", "e", "f"], "range": ["#0000FF", "#339966", "#000080", "#FF00FF", "#FFFF00", "#800000"]}}
}
},
{
"data": {"values": [
{"t":"(a)","x":3.076,"y":146},{"t":"(b)","x":3.076,"y":116.2},{"t":"(c)","x":3.076,"y":90.2},
{"t":"(d)","x":3.076,"y":65.5},{"t":"(e)","x":3.096,"y":44.3},{"t":"(f)","x":3.1,"y":26.4}
]},
"mark": {"type": "text", "align": "left", "baseline": "middle", "fontSize": 27, "color": "#000"},
"encoding": {"text": {"field": "t"}}
},
{
"data": {"values": [{"t":"Taxa 0,2 s","x":0.38,"y":157.4}]},
"mark": {"type": "text", "align": "left", "baseline": "alphabetic", "fontSize": 27, "color": "#000"},
"encoding": {"text": {"field": "t"}}
},
{
"data": {"values": [{"t":"-1","x":0.892,"y":163.4}]},
"mark": {"type": "text", "align": "left", "baseline": "alphabetic", "fontSize": 16, "color": "#000"},
"encoding": {"text": {"field": "t"}}
}
]
}
